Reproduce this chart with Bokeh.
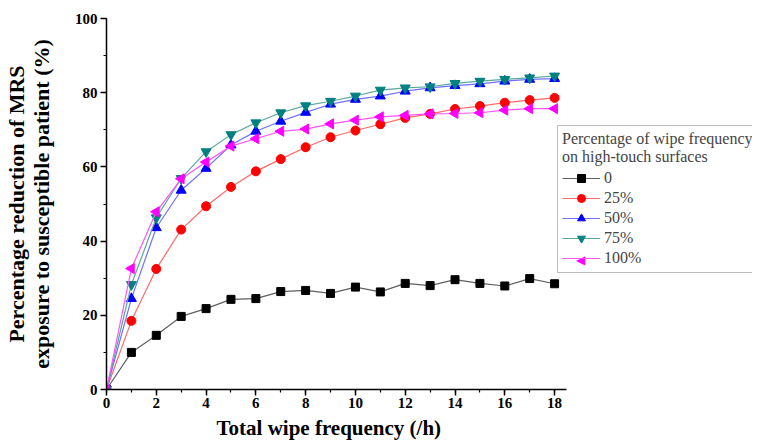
import numpy as np
from bokeh.plotting import figure
from bokeh.models import (Range1d, SingleIntervalTicker, FixedTicker, Legend, LegendItem,
                          LinearAxis, Label, Title)
from bokeh.embed import file_html
from bokeh.resources import INLINE

x = list(range(0, 19))
s0 = [0, 10.0, 14.6, 19.7, 21.8, 24.3, 24.5, 26.4, 26.7, 25.9, 27.6, 26.3, 28.6, 28.0, 29.6, 28.6, 27.9, 29.9, 28.5]
s25 = [0, 18.5, 32.5, 43.1, 49.4, 54.6, 58.8, 62.1, 65.3, 68.0, 69.8, 71.5, 73.2, 74.3, 75.6, 76.4, 77.3, 78.0, 78.6]
s50 = [0, 24.5, 43.6, 53.7, 59.6, 65.9, 69.6, 72.3, 74.7, 76.9, 78.2, 79.1, 80.4, 81.3, 81.9, 82.4, 83.1, 83.6, 83.8]
s75 = [0, 28.3, 46.3, 56.9, 64.1, 68.7, 71.9, 74.6, 76.5, 77.7, 79.1, 80.7, 81.3, 81.6, 82.5, 83.1, 83.6, 84.0, 84.5]
s100 = [0, 32.6, 47.9, 56.8, 61.3, 65.6, 67.6, 69.6, 70.2, 71.6, 72.6, 73.5, 73.9, 74.3, 74.4, 74.6, 75.3, 75.7, 75.7]
labels = ["0", "25%", "50%", "75%", "100%"]
ylabel1 = "Percentage reduction of MRS"
ylabel2 = "exposure to susceptible patient (%)"
xlabel = "Total wipe frequency (/h)"
legend_title = "Percentage of wipe frequency\non high-touch surfaces"

FONT = "Liberation Serif"
FW, FH = 646, 371          # frame size in px
XMAX = 25.95               # frame spans to the right edge; visible axis stops at 18.47

p = figure(frame_width=FW, frame_height=FH, output_backend="svg", toolbar_location=None,
           x_range=Range1d(0, XMAX), y_range=Range1d(0, 100),
           min_border_left=99, min_border_right=0, min_border_top=18, min_border_bottom=0)
p.outline_line_color = None
p.xgrid.visible = False
p.ygrid.visible = False

for ax in (p.xaxis[0], p.yaxis[0]):
    ax.axis_line_width = 1.5
    ax.axis_line_color = "black"
    ax.major_tick_line_width = 1.5
    ax.minor_tick_line_width = 1.2
    ax.major_tick_out = 6
    ax.major_tick_in = 0
    ax.minor_tick_out = 3
    ax.minor_tick_in = 0
    ax.major_label_text_font = FONT
    ax.major_label_text_font_style = "bold"
    ax.major_label_text_font_size = "15px"
    ax.major_label_text_color = "black"
    ax.axis_label_text_font = FONT
    ax.axis_label_text_font_style = "bold"
    ax.axis_label_text_font_size = "22px"
    ax.axis_label_text_color = "black"

p.xaxis.bounds = (0, 18.47)
p.yaxis.bounds = (0, 100)
p.xaxis.ticker = SingleIntervalTicker(interval=2, num_minor_ticks=2)
p.yaxis.ticker = SingleIntervalTicker(interval=20, num_minor_ticks=2)
p.yaxis.axis_label = ylabel2
p.yaxis.axis_label_standoff = 18
p.xaxis.major_label_standoff = 2
p.yaxis.major_label_standoff = 3

# outer axis carrying only the first line of the y title
extra = LinearAxis(ticker=FixedTicker(ticks=[]), axis_line_color=None,
                   major_tick_line_color=None, minor_tick_line_color=None,
                   major_label_text_font_size="0px",
                   axis_label=ylabel1, axis_label_standoff=-3,
                   axis_label_text_font=FONT, axis_label_text_font_style="bold",
                   axis_label_text_font_size="22px", axis_label_text_color="black")
p.add_layout(extra, "left")

# x title, placed under the visible part of the axis
p.add_layout(Title(text=xlabel, align="left", offset=110, standoff=6,
                   text_font=FONT, text_font_style="bold", text_font_size="21px",
                   text_color="black"), "below")

series = [
    (s0, "#606060", "black", "square", 0, 8),
    (s25, "#ff6a6a", "#ff0000", "circle", 0, 9),
    (s50, "#7070ff", "#0000ff", "triangle", 0, 10),
    (s75, "#5aa89c", "#008080", "inverted_triangle", 0, 10),
    (s100, "#ff55ff", "#ff00ff", "triangle", np.pi / 2, 10),
]

LEG_X, LEG_Y, PAD, GW, LH = 451, 116, 4, 38, 20

items = []
for i, ((ys, lc, mc, mk, ang, sz), lab) in enumerate(zip(series, labels)):
    l = p.line(x, ys, line_color=lc, line_width=1.2)
    s = p.scatter(x, ys, marker=mk, angle=ang, size=sz, fill_color=mc, line_color=mc)
    # the legend cannot rotate a marker; the left-pointing triangle is overlaid below
    rends = [l] if i == 4 else [l, s]
    items.append(LegendItem(label=lab, renderers=rends))

legend = Legend(items=items, location=(LEG_X, LEG_Y),
                title=legend_title,
                title_text_font=FONT, title_text_font_size="16px", title_text_font_style="normal",
                title_standoff=2,
                label_text_font=FONT, label_text_font_size="16px",
                label_height=LH, glyph_height=LH, glyph_width=GW, spacing=0,
                padding=PAD, margin=0, border_line_color="#808080", border_line_width=1,
                background_fill_color="white", background_fill_alpha=0.0,
                label_standoff=4)
p.add_layout(legend, "center")

tri_x = (LEG_X + PAD + GW / 2) / FW * XMAX
tri_y = (LEG_Y + PAD + LH / 2 - 0.5) / FH * 100
tri = Label(x=tri_x, y=tri_y, text="\u25c0", level="overlay",
            text_font="DejaVu Sans", text_font_size="12px", text_color="#ff00ff",
            text_align="center", text_baseline="middle")
p.add_layout(tri, "center")

open("out.html", "w").write(file_html(p, INLINE))
